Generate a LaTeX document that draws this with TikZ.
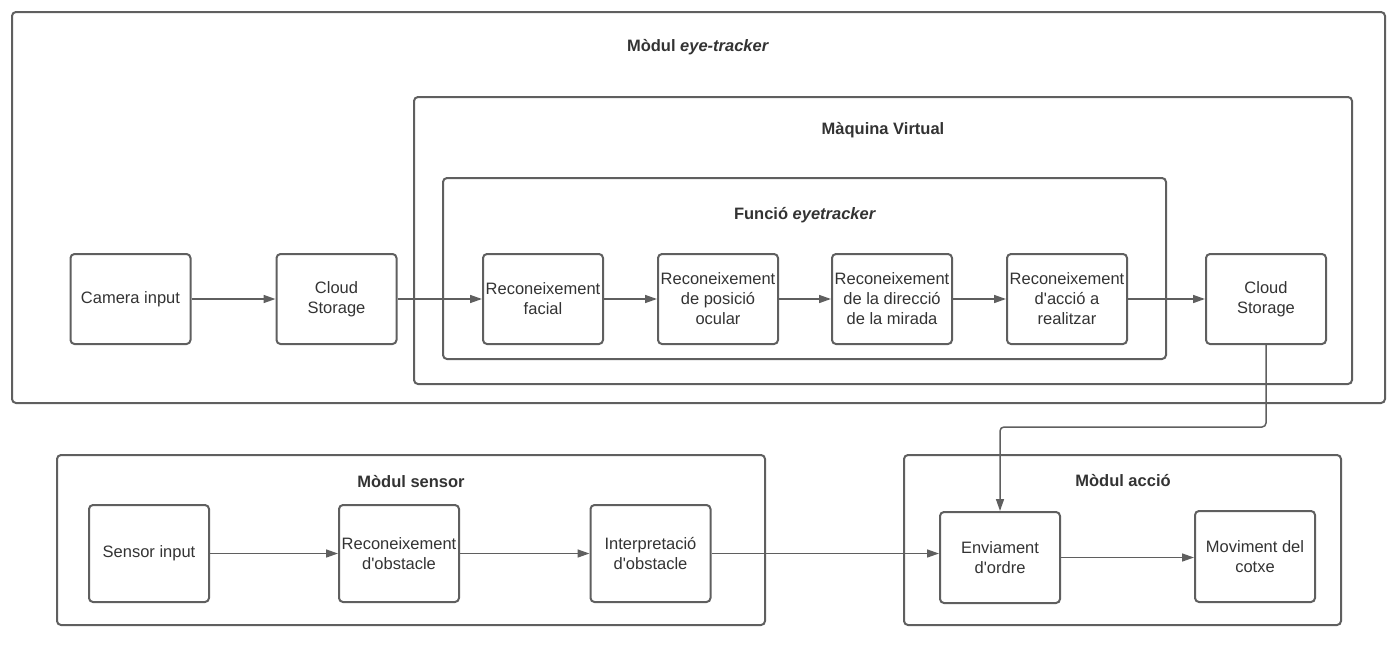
\documentclass[tikz,border=0pt]{standalone}
\usepackage{fontspec}
\setmainfont{Liberation Sans}[Ligatures=TeXOff]
\usepackage{xcolor}
\usetikzlibrary{positioning,calc,arrows.meta}
\definecolor{linegray}{HTML}{5F5F5F}
\definecolor{textgray}{HTML}{333333}

\tikzset{
    block/.style={draw=linegray, line width=2pt, rounded corners=4pt, minimum width=120pt, minimum height=90pt, inner sep=1pt, align=center, text=textgray, font=\fontsize{16.5}{20}\selectfont},
    frame/.style={draw=linegray, line width=2pt, rounded corners=4pt},
    title/.style={text=textgray, font=\fontsize{16.5}{20}\selectfont\bfseries},
    flow/.style={draw=linegray, line width=1.5pt, -{Triangle[length=12pt,width=8pt]}}
}

\begin{document}
\begin{tikzpicture}[x=1pt, y=-1pt]
    \useasboundingbox (0,0) rectangle (1396,645);

    % containers
    \draw[frame] (12,12) rectangle (1385,403);
    \draw[frame] (414,97) rectangle (1352,384);
    \draw[frame] (443,178) rectangle (1166,359);
    \draw[frame] (57,455) rectangle (765,625);
    \draw[frame] (904,455) rectangle (1341,625);

    \node[title] (teye) at (698,47) {Mòdul \textit{eye-tracker}};
    \node[title] (tvm) at (883,130) {Màquina Virtual};
    \node[title] (tfun) at (805,215) {Funció \textit{eyetracker}};
    \node[title] (tsens) at (411,482) {Mòdul sensor};
    \node[title] (tacc) at (1123,481) {Mòdul acció};

    % eye-tracker row
    \node[block] (cam) at (130.5,299) {Camera input};
    \node[block] (cs1) at (336.5,299) {Cloud\\Storage};
    \node[block] (facial) at (543,299) {Reconeixement\\facial};
    \node[block] (ocular) at (718,299) {Reconeixement\\de posició\\ocular};
    \node[block] (mirada) at (892,299) {Reconeixement\\de la direcció\\de la mirada};
    \node[block] (accio) at (1067,299) {Reconeixement\\d'acció a\\realitzar};
    \node[block] (cs2) at (1266,299) {Cloud\\Storage};

    % sensor row
    \node[block, minimum height=97pt] (sens) at (149,553.5) {Sensor input};
    \node[block, minimum height=97pt] (obst) at (399,553.5) {Reconeixement\\d'obstacle};
    \node[block, minimum height=97pt] (interp) at (650.5,553.5) {Interpretació\\d'obstacle};

    % action row
    \node[block, minimum height=91pt] (envia) at (1000,557.5) {Enviament\\d'ordre};
    \node[block, minimum height=91pt] (movi) at (1255,556.5) {Moviment del\\cotxe};

    \draw[flow] (cam) -- (cs1);
    \draw[flow] (cs1) -- (facial);
    \draw[flow] (facial) -- (ocular);
    \draw[flow] (ocular) -- (mirada);
    \draw[flow] (mirada) -- (accio);
    \draw[flow] (accio) -- (cs2);

    \coordinate (bend) at (1000,427);
    \draw[flow, rounded corners=4pt] (cs2.south) |- (bend) -- (envia.north);

    \draw[flow] (sens) -- (obst);
    \draw[flow] (obst) -- (interp);
    \draw[flow] (interp.east) -- (interp.east -| envia.west);
    \draw[flow] (envia.east) -- (envia.east -| movi.west);
\end{tikzpicture}
\end{document}
